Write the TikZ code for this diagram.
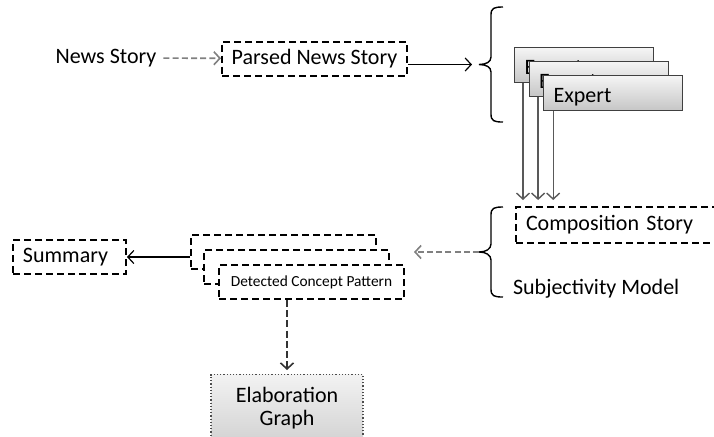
\documentclass[tikz,border=0pt]{standalone}
\usepackage{fontspec}
\setmainfont{Carlito}
\usetikzlibrary{positioning,arrows.meta}

\tikzset{
  dashbox/.style={draw, line width=1pt, dash pattern=on 3.5pt off 2pt, fill=white,
    minimum width=92.5pt, minimum height=17pt, inner sep=2pt},
  expertbox/.style={draw=black!75, line width=0.6pt, top color=gray!8, bottom color=gray!45,
    minimum width=69.5pt, minimum height=17.5pt, text width=59.5pt, align=left,
    inner xsep=5pt, inner ysep=0pt, text height=9.2pt, text depth=0pt, anchor=north west},
  elabbox/.style={draw=black!70, densely dotted, line width=0.6pt, top color=gray!10,
    bottom color=gray!35, minimum width=76pt, minimum height=34pt, align=center},
  greydash/.style={draw=gray, line width=0.8pt, dash pattern=on 3pt off 1.6pt},
  bracket/.style={line width=0.7pt},
}

\begin{document}
\begin{tikzpicture}[x=0.5pt, y=-0.5pt, >={Straight Barb[length=3pt,width=6.5pt]},
  font=\fontsize{11}{11.5}\selectfont]
\useasboundingbox (0,0) rectangle (714,436);

% input side
\node (news) at (106,58) {News Story};
\node[dashbox] (parsed) at (314.5,58.5) {Parsed News Story};
\draw[greydash,->] (news) -- (parsed);

% experts, grouped by a brace
\coordinate (tip1) at (479,64.5);
\draw[bracket] (503,7) .. controls (494,7) and (491,8) .. (491,15) -- (491,57)
  .. controls (491,62) and (486,64.5) .. (tip1)
  .. controls (486,64.5) and (491,67) .. (491,72) -- (491,114)
  .. controls (491,121) and (494,122) .. (503,122);
\draw[->, line width=0.6pt, shorten >=3.5pt] (parsed.east |- tip1) -- (tip1);
\foreach \i/\x/\y in {1/514/47, 2/528.5/61, 3/543/75}
  \node[expertbox] (expert\i) at (\x,\y) {Expert};

% subjectivity model
\node[dashbox, anchor=north west, minimum width=105pt, minimum height=18pt,
  text width=95pt, align=left, inner xsep=5pt] (comp) at (515,206) {Composition Story};
\node[anchor=west] (subj) at (506,289) {Subjectivity Model};
\coordinate (tip2) at (479,252);
\draw[bracket] (503,207) .. controls (494,207) and (491,208) .. (491,215) -- (491,244)
  .. controls (491,249) and (486,252) .. (tip2)
  .. controls (486,252) and (491,255) .. (491,260) -- (491,289)
  .. controls (491,296) and (494,297) .. (503,297);
\foreach \i in {1,2,3}
  \draw[->, draw=black!65, line width=0.7pt, shorten >=3pt]
    ([xshift=4.5pt+(\i-1)*0.3pt]expert\i.south west) -- ([xshift=4.5pt+(\i-1)*0.3pt]expert\i.south west |- comp.north);

% detected concept patterns
\foreach \i/\x/\y in {1/190/234, 2/203/249}
  \node[dashbox, anchor=north west] (dcp\i) at (\x,\y) {};
\node[dashbox, anchor=north west, font=\fontsize{7.7}{9}\selectfont] (dcp3) at (218,264) {Detected Concept Pattern};
\draw[greydash,->, shorten >=4.5pt] (tip2) -- (dcp3.east |- tip2);

\node[dashbox, minimum width=56.5pt, text width=46.5pt, align=left, inner xsep=5pt] (summary) at (69.5,257) {Summary};
\draw[->, line width=0.6pt] (dcp1.west |- summary) -- (summary);

\node[elabbox, anchor=north] (elab) at (287,374) {Elaboration\\Graph};
\draw[->, draw=black!80, line width=0.8pt, dash pattern=on 3.5pt off 1.6pt, shorten >=2pt]
  (dcp3.south -| elab.north) -- (elab.north);
\end{tikzpicture}
\end{document}
